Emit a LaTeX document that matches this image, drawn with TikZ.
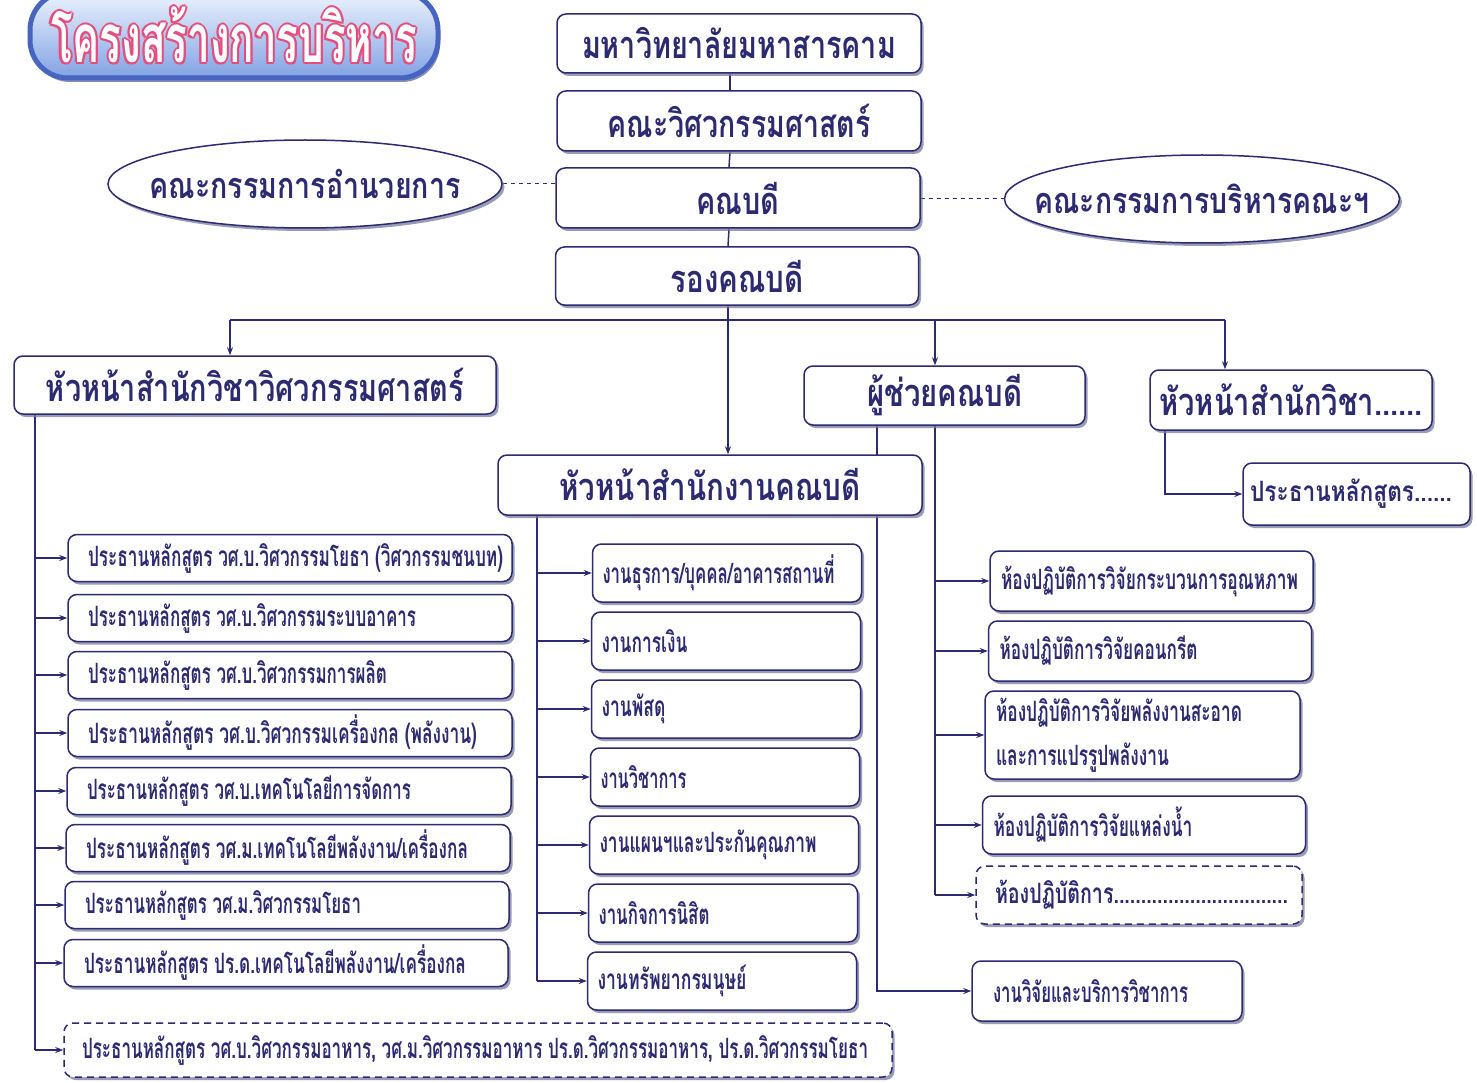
\documentclass[tikz,border=0pt]{standalone}
\usepackage{fontspec}
\usepackage{graphicx}
\usetikzlibrary{arrows.meta,shadows,backgrounds,calc,shapes.geometric}
\newfontfamily\thai[Script=Thai]{Loma}
\definecolor{navy}{RGB}{44,42,112}
\definecolor{shadowc}{RGB}{120,122,160}
\definecolor{pinkc}{RGB}{228,78,125}
\definecolor{tblue}{RGB}{70,100,192}
\definecolor{tlight}{RGB}{236,243,253}
\definecolor{tdark}{RGB}{130,162,228}
\newcommand\tw[2]{\resizebox{#1}{\height}{#2}}
\newcommand\hfont{\thai\bfseries\fontsize{38}{42}\selectfont}
\newcommand\efont{\thai\bfseries\fontsize{36}{40}\selectfont}
\newcommand\lfont{\thai\bfseries\fontsize{28}{44}\selectfont}
\newcommand\ocopy[3]{\makebox[0pt][l]{\kern#1\raisebox{#2}{#3}}}
\newcommand\ttl{\resizebox{366pt}{56pt}{\thai\bfseries โครงสร้างการบริหาร}}
\tikzset{
  box/.style={draw=navy, line width=1.5pt, fill=white, rounded corners=9pt, text=navy, inner sep=0pt,
    drop shadow={shadow xshift=2.5pt, shadow yshift=-3pt, fill=shadowc, opacity=0.75}},
  hd/.style={box, font=\hfont, align=center},
  lst/.style={box, font=\lfont, align=left},
  dbox/.style={lst, dash pattern=on 7pt off 5pt},
  ell/.style={ellipse, draw=navy, line width=1.5pt, fill=white, text=navy, inner sep=0pt, font=\efont,
    drop shadow={shadow xshift=2.5pt, shadow yshift=-3pt, fill=shadowc, opacity=0.75}},
  conn/.style={draw=navy, line width=1.5pt},
  arr/.style={conn, -{Stealth[length=8pt,width=6pt]}},
  dconn/.style={draw=navy, line width=1pt, dash pattern=on 4pt off 4pt},
}
\begin{document}
\begin{tikzpicture}[x=1pt,y=-1pt]
\useasboundingbox (0,0) rectangle (1477,1083);

% title
\node[draw=tblue, line width=5pt, rounded corners=38pt, top color=tlight, bottom color=tdark,
  minimum width=408pt, minimum height=86pt, inner sep=0pt,
  drop shadow={shadow xshift=2pt, shadow yshift=-4pt, fill=tblue!70!black, opacity=0.6}] (T) at (234,35) {};
\node[inner sep=0pt] (tt) at (T.center) {%
  \ocopy{-2pt}{0pt}{\color{pinkc}\ttl}\ocopy{2pt}{0pt}{\color{pinkc}\ttl}%
  \ocopy{0pt}{2pt}{\color{pinkc}\ttl}\ocopy{0pt}{-2pt}{\color{pinkc}\ttl}%
  \ocopy{-1.5pt}{1.5pt}{\color{pinkc}\ttl}\ocopy{1.5pt}{1.5pt}{\color{pinkc}\ttl}%
  \ocopy{-1.5pt}{-1.5pt}{\color{pinkc}\ttl}\ocopy{1.5pt}{-1.5pt}{\color{pinkc}\ttl}%
  {\color{white}\ttl}};

% top spine
\node[hd, minimum width=364pt, minimum height=59pt] (A) at (739,43.5) {\tw{314pt}{มหาวิทยาลัยมหาสารคาม}};
\node[hd, minimum width=364pt, minimum height=60pt] (B) at (739,121) {\tw{263pt}{คณะวิศวกรรมศาสตร์}};
\node[hd, minimum width=364pt, minimum height=60pt] (C) at (738,198) {\tw{83pt}{คณบดี}};
\node[hd, minimum width=363pt, minimum height=58pt] (D) at (737,276) {\tw{133pt}{รองคณบดี}};

\node[ell, minimum width=394pt, minimum height=88pt] (E1) at (305,184) {\makebox[0pt]{\tw{311pt}{คณะกรรมการอำนวยการ}}};
\node[ell, minimum width=395pt, minimum height=88pt] (E2) at (1202,199) {\makebox[0pt]{\tw{335pt}{คณะกรรมการบริหารคณะฯ}}};

% second level
\node[hd, minimum width=482pt, minimum height=58pt] (H1) at (255,385) {\tw{418pt}{หัวหน้าสำนักวิชาวิศวกรรมศาสตร์}};
\node[hd, minimum width=424pt, minimum height=60pt] (H2) at (710,485) {\tw{301pt}{หัวหน้าสำนักงานคณบดี}};
\node[hd, minimum width=281pt, minimum height=59pt] (H3) at (944.5,395.5) {\tw{155pt}{ผู้ช่วยคณบดี}};
\node[hd, minimum width=282pt, minimum height=60pt] (H4) at (1291,400) {\tw{263pt}{หัวหน้าสำนักวิชา......}};
\node[lst, inner xsep=7pt, text width=213pt, minimum height=62pt] (H5) at (1356.5,494) {\tw{202pt}{ประธานหลักสูตร......}};

% left column
\tikzset{lc/.style={lst, inner xsep=20pt, text width=404pt, minimum height=47pt}}
\node[lc] (l1) at (290,558) {\tw{415pt}{ประธานหลักสูตร วศ.บ.วิศวกรรมโยธา (วิศวกรรมชนบท)}};
\node[lc] (l2) at (290,618) {\tw{328pt}{ประธานหลักสูตร วศ.บ.วิศวกรรมระบบอาคาร}};
\node[lc] (l3) at (290,675) {\tw{299pt}{ประธานหลักสูตร วศ.บ.วิศวกรรมการผลิต}};
\node[lc] (l4) at (290,733) {\tw{389pt}{ประธานหลักสูตร วศ.บ.วิศวกรรมเครื่องกล (พลังงาน)}};
\node[lc] (l5) at (289,791) {\tw{324pt}{ประธานหลักสูตร วศ.บ.เทคโนโลยีการจัดการ}};
\node[lc] (l6) at (288,848) {\tw{382pt}{ประธานหลักสูตร วศ.ม.เทคโนโลยีพลังงาน/เครื่องกล}};
\node[lc] (l7) at (287,905) {\tw{276pt}{ประธานหลักสูตร วศ.ม.วิศวกรรมโยธา}};
\node[lc] (l8) at (286,963) {\tw{382pt}{ประธานหลักสูตร ปร.ด.เทคโนโลยีพลังงาน/เครื่องกล}};
\node[dbox, inner xsep=18pt, text width=792pt, minimum height=54pt] (l9) at (478,1050) {\tw{786pt}{ประธานหลักสูตร วศ.บ.วิศวกรรมอาหาร, วศ.ม.วิศวกรรมอาหาร ปร.ด.วิศวกรรมอาหาร, ปร.ด.วิศวกรรมโยธา}};

% middle column
\tikzset{mc/.style={lst, inner xsep=10pt, text width=249pt, minimum height=58pt}}
\node[mc] (m1) at (727,573) {\tw{232pt}{งานธุรการ/บุคคล/อาคารสถานที่}};
\node[mc] (m2) at (726,641) {\tw{86pt}{งานการเงิน}};
\node[mc] (m3) at (726,709) {\tw{64pt}{งานพัสดุ}};
\node[mc] (m4) at (725,777) {\tw{86pt}{งานวิชาการ}};
\node[mc] (m5) at (724,845) {\tw{217pt}{งานแผนฯและประกันคุณภาพ}};
\node[mc] (m6) at (723,913) {\tw{111pt}{งานกิจการนิสิต}};
\node[mc] (m7) at (722,981) {\tw{149pt}{งานทรัพยากรมนุษย์}};

% right column
\tikzset{rc/.style={lst, inner xsep=11pt, text width=301pt, minimum height=60pt}}
\node[rc] (r1) at (1151.5,581) {\tw{297pt}{ห้องปฏิบัติการวิจัยกระบวนการอุณหภาพ}};
\node[rc] (r2) at (1150,651) {\tw{198pt}{ห้องปฏิบัติการวิจัยคอนกรีต}};
\node[rc, text width=293pt, minimum height=88pt] (r3) at (1142.5,735) {\tw{246pt}{ห้องปฏิบัติการวิจัยพลังงานสะอาด}\\\tw{173pt}{และการแปรรูปพลังงาน}};
\node[rc, minimum height=58pt] (r4) at (1144,825) {\tw{199pt}{ห้องปฏิบัติการวิจัยแหล่งน้ำ}};
\node[dbox, inner xsep=19pt, text width=288pt, minimum height=58pt] (r5) at (1139,895) {\tw{293pt}{ห้องปฏิบัติการ................................}};
\node[lst, inner xsep=21pt, text width=228pt, minimum height=60pt] (rv) at (1107,991) {\tw{195pt}{งานวิจัยและบริการวิชาการ}};

\begin{pgfonlayer}{background}
  \fill[white] (0,0) rectangle (1477,1083);
  \draw[conn] ([xshift=-9pt]A.south) -- ([xshift=-9pt]B.north);
  \draw[conn] ([xshift=-9pt]B.south) -- ([xshift=-9pt]C.north);
  \draw[conn] ([xshift=-9pt]C.south) -- ([xshift=-9pt]D.north);
  \coordinate (bus) at ([xshift=-9pt]D.south |- 0,320);
  \coordinate (bL) at (230,320);
  \coordinate (bA) at (935,320);
  \coordinate (bR) at (1225,320);
  \draw[conn] ([xshift=-9pt]D.south) -- (bus);
  \draw[conn] (bL) -- (bR);
  \draw[arr] (bL) -- (bL |- H1.north);
  \draw[arr] (bus) -- (bus |- H2.north);
  \draw[arr] (bA) -- (bA |- H3.north);
  \draw[arr] (bR) -- (bR |- H4.north);
  \draw[dconn] (E1.east) -- (E1.east -| C.west);
  \draw[dconn] (E2.west -| C.east) -- (E2.west);
  % left column
  \coordinate (Lt) at ([xshift=-220pt]H1.south);
  \draw[conn] (Lt) -- (Lt |- l9.west);
  \foreach \i in {1,...,9} \draw[arr] (Lt |- l\i.west) -- (l\i.west);
  % middle column
  \coordinate (Mt) at ([xshift=-173pt]H2.south);
  \draw[conn] (Mt) -- (Mt |- m7.west);
  \foreach \i in {1,...,7} \draw[arr] (Mt |- m\i.west) -- (m\i.west);
  % assistant
  \coordinate (At) at ([xshift=-9.5pt]H3.south);
  \draw[conn] (At) -- (At |- r5.west);
  \foreach \i in {1,...,5} \draw[arr] (At |- r\i.west) -- (r\i.west);
  \coordinate (Bt) at ([xshift=-67.5pt]H3.south);
  \draw[arr] (Bt) -- (Bt |- rv.west) -- (rv.west);
  % section head
  \coordinate (Ct) at ([xshift=-126pt]H4.south);
  \draw[arr] (Ct) -- (Ct |- H5.west) -- (H5.west);
\end{pgfonlayer}
\end{tikzpicture}
\end{document}
